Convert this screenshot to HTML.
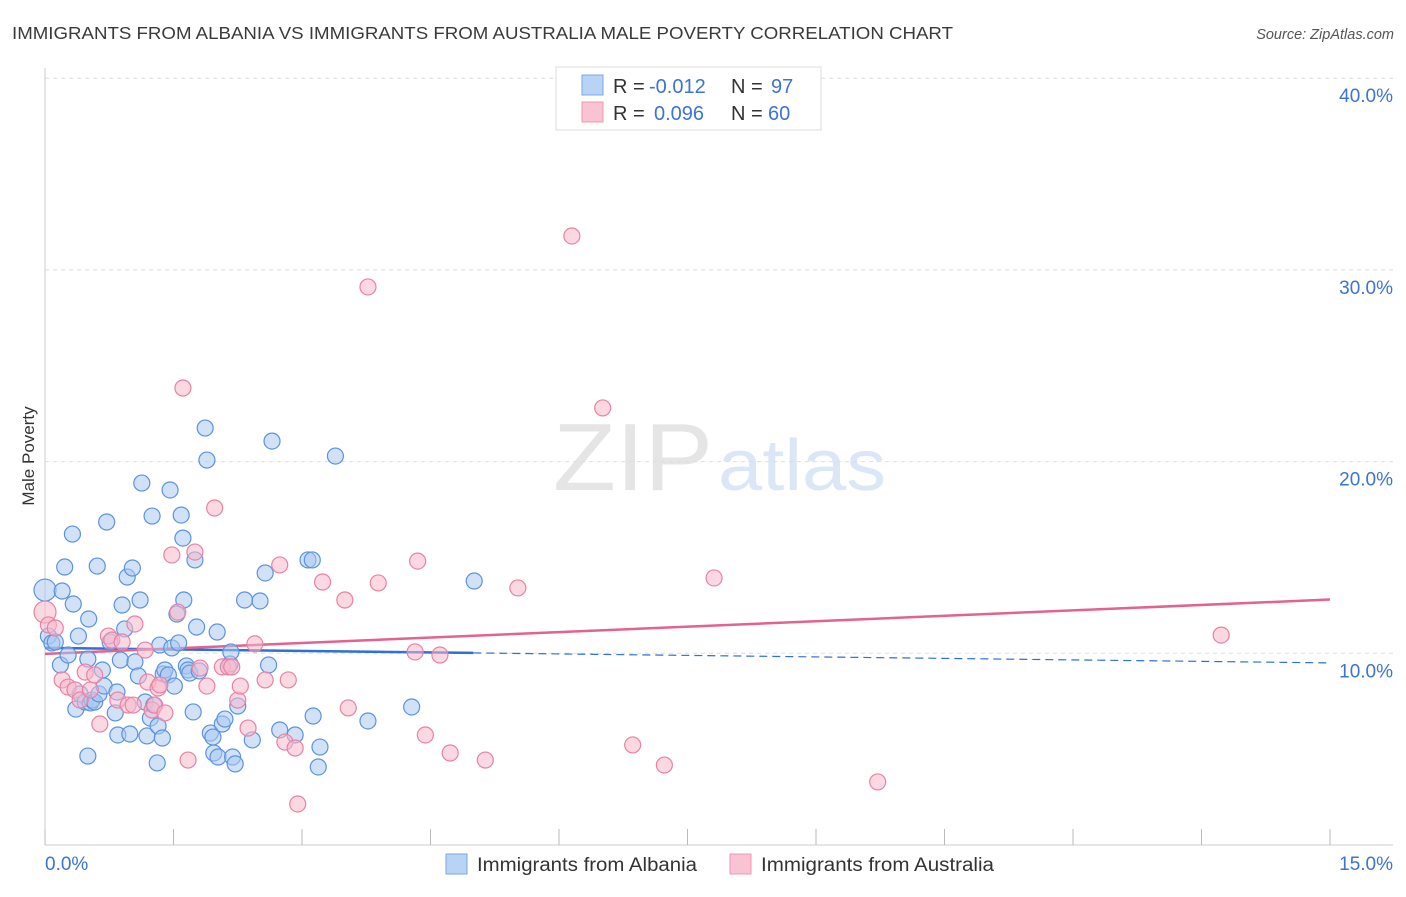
<!DOCTYPE html>
<html><head><meta charset="utf-8"><style>
body{margin:0;background:#fff;font-family:"Liberation Sans",sans-serif;}
svg text{font-family:"Liberation Sans",sans-serif;}
</style></head><body>
<svg id="chart" width="1406" height="892" xmlns="http://www.w3.org/2000/svg">
<text x="12" y="39" font-size="17.5" fill="#3a3a3a" textLength="941" lengthAdjust="spacingAndGlyphs">IMMIGRANTS FROM ALBANIA VS IMMIGRANTS FROM AUSTRALIA MALE POVERTY CORRELATION CHART</text>
<text x="1394" y="39" font-size="14.5" fill="#555" text-anchor="end" font-style="italic">Source: ZipAtlas.com</text>
<text transform="translate(34,456) rotate(-90)" font-size="17" fill="#333" text-anchor="middle">Male Poverty</text>
<g opacity="0.5">
<text x="553" y="490" font-size="96" fill="#ccc" font-family="Liberation Serif,serif" textLength="160" lengthAdjust="spacingAndGlyphs">ZIP</text>
<text x="718" y="490" font-size="72" fill="#b8cfee" textLength="168" lengthAdjust="spacingAndGlyphs">atlas</text>
</g>
<g id="grid"></g><g id="axes"></g><g id="lines"></g><g id="pts"></g>
<g>
<rect x="556" y="67" width="265" height="63" fill="#fff" stroke="#ddd"/>
<rect x="582" y="75" width="21" height="20" fill="#b9d3f5" stroke="#7aa7e6"/>
<rect x="582" y="102" width="21" height="20" fill="#f9c3d3" stroke="#eb98b2"/>
<text x="613" y="93" font-size="20" fill="#333">R = <tspan fill="#3b74d4" x="649">-0.012</tspan><tspan x="731">N = </tspan><tspan fill="#3b74d4" x="771">97</tspan></text>
<text x="613" y="120" font-size="20" fill="#333">R = <tspan fill="#3b74d4" x="654">0.096</tspan><tspan x="731">N = </tspan><tspan fill="#3b74d4" x="768">60</tspan></text>
</g>
<g>
<rect x="446" y="854" width="21" height="20" fill="#b9d3f5" stroke="#7aa7e6"/>
<text x="477" y="871" font-size="19" fill="#333" textLength="220" lengthAdjust="spacingAndGlyphs">Immigrants from Albania</text>
<rect x="730" y="854" width="21" height="20" fill="#f9c3d3" stroke="#eb98b2"/>
<text x="761" y="871" font-size="19" fill="#333" textLength="233" lengthAdjust="spacingAndGlyphs">Immigrants from Australia</text>
</g>
</svg>
<script>
const xTicks=[0,1.5,3,4.5,6,7.5,9,10.5,12,13.5,15];
const yTicks=[10,20,30,40];
const yTickLabels=["10.0%","20.0%","30.0%","40.0%"];
const xEndLabels=["0.0%","15.0%"];
const albaniaX=[0,0.04,0.08,0.12,0.18,0.20,0.23,0.27,0.32,0.33,0.36,0.39,0.41,0.47,0.50,0.51,0.53,0.55,0.58,0.61,0.63,0.67,0.69,0.72,0.76,0.82,0.84,0.85,0.88,0.90,0.93,0.96,0.99,1.02,1.05,1.09,1.11,1.13,1.17,1.19,1.23,1.25,1.27,1.31,1.32,1.34,1.37,1.38,1.40,1.44,1.46,1.48,1.51,1.54,1.56,1.59,1.61,1.62,1.65,1.67,1.69,1.73,1.75,1.77,1.80,1.87,1.89,1.93,1.96,1.97,2.01,2.02,2.07,2.10,2.16,2.17,2.19,2.22,2.25,2.33,2.42,2.51,2.57,2.61,2.65,2.74,2.92,3.07,3.12,3.13,3.19,3.21,3.39,3.77,4.28,5.01,0.50];
const albaniaY=[13.30,10.90,10.54,10.59,9.39,13.25,14.50,9.91,16.22,12.57,7.09,10.90,7.88,7.46,9.70,11.79,7.41,7.56,7.46,14.55,7.88,9.13,8.29,16.85,10.59,6.89,7.98,5.74,9.65,12.52,11.27,13.98,5.79,14.45,9.55,8.82,12.78,18.88,7.46,5.69,6.62,17.16,7.30,4.28,6.21,10.43,5.58,8.92,9.13,8.87,18.52,10.28,8.29,12.05,10.54,17.21,16.01,12.78,9.34,9.13,8.97,6.94,14.87,11.37,9.08,21.75,20.08,5.84,5.63,4.80,11.11,4.59,6.31,6.57,9.44,10.07,4.59,4.23,7.25,12.78,5.48,12.73,14.19,9.39,21.07,6.00,5.74,14.87,14.87,6.73,4.07,5.11,20.29,6.47,7.20,13.77,4.64];
const australiaX=[0,0.04,0.12,0.20,0.27,0.35,0.41,0.47,0.53,0.58,0.64,0.74,0.78,0.85,0.90,0.97,1.03,1.05,1.17,1.20,1.25,1.28,1.32,1.34,1.40,1.48,1.55,1.61,1.67,1.75,1.81,1.89,1.98,2.07,2.14,2.18,2.25,2.28,2.37,2.45,2.57,2.74,2.80,2.84,2.92,2.95,3.24,3.50,3.54,3.77,3.89,4.32,4.35,4.44,4.61,4.73,5.14,5.52,6.15,6.51,6.86,7.23,7.81,9.72,13.73];
const australiaY=[12.15,11.48,11.32,8.61,8.24,8.09,7.56,9.02,8.09,8.87,6.31,10.90,10.69,7.56,10.59,7.30,7.30,11.53,10.17,8.50,7.04,7.30,8.19,8.35,6.89,15.13,12.15,23.84,4.43,15.28,9.23,8.29,17.58,9.29,9.29,9.29,7.56,8.29,6.10,10.49,8.61,14.61,5.37,8.61,5.06,2.14,13.72,12.78,7.15,29.11,13.67,10.07,14.81,5.74,9.91,4.80,4.43,13.41,31.77,22.80,5.22,4.17,13.93,3.29,10.95];
const albaniaTrend=[10.28,-0.052];
const australiaTrend=[9.97,0.189];

const X=v=>45+v*(1285/15), Y=v=>845-v*19.17;
const NS="http://www.w3.org/2000/svg";
function mk(parent,tag,attrs){const e=document.createElementNS(NS,tag);for(const k in attrs)e.setAttribute(k,attrs[k]);document.getElementById(parent).appendChild(e);return e;}
yTicks.forEach((t,i)=>{
 const g=mk('grid','line',{x1:45,x2:1393,y1:Y(t),y2:Y(t),stroke:'#ddd','stroke-dasharray':'4,4'});
 
 
 const l=mk('axes','text',{x:1393,y:Y(t)+24,'font-size':19,fill:'#3b74d4','text-anchor':'end'});
 l.textContent=yTickLabels[i];
 
 
});
const ax=mk('axes','line',{x1:45,x2:1393,y1:845,y2:845,stroke:'#ccc'});


const ay=mk('axes','line',{x1:45,x2:45,y1:68,y2:845,stroke:'#ccc'});


xTicks.forEach(t=>{
 const k=mk('axes','line',{x1:X(t),x2:X(t),y1:829,y2:845,stroke:'#bbb'});
 
 
});
const x0=mk('axes','text',{x:45,y:870,'font-size':19,fill:'#3b74d4'});x0.textContent=xEndLabels[0];


const x1=mk('axes','text',{x:1393,y:870,'font-size':19,fill:'#3b74d4','text-anchor':'end'});x1.textContent=xEndLabels[1];


function pts(xs,ys,fill,stroke,name){xs.forEach((x,i)=>{const r=(x===0)?11:8;const c=mk('pts','circle',{cx:X(x),cy:Y(ys[i]),r:r,fill:fill,'fill-opacity':0.55,stroke:stroke,'stroke-width':1.2});
 
 });}
pts(albaniaX,albaniaY,'#a9c8f2','#5b93e0','albania-point');
pts(australiaX,australiaY,'#f7b8cb','#e882a4','australia-point');
const tb=mk('lines','line',{x1:X(0),y1:Y(albaniaTrend[0]),x2:X(5),y2:Y(albaniaTrend[0]+5*albaniaTrend[1]),stroke:'#2f6fd6','stroke-width':2.5});


const td=mk('lines','line',{x1:X(5),y1:Y(albaniaTrend[0]+5*albaniaTrend[1]),x2:X(15),y2:Y(albaniaTrend[0]+15*albaniaTrend[1]),stroke:'#2f6fd6','stroke-width':1.2,'stroke-dasharray':'8,5'});


const tp=mk('lines','line',{x1:X(0),y1:Y(australiaTrend[0]),x2:X(15),y2:Y(australiaTrend[0]+15*australiaTrend[1]),stroke:'#e3628e','stroke-width':2.5});


</script>
</body></html>
